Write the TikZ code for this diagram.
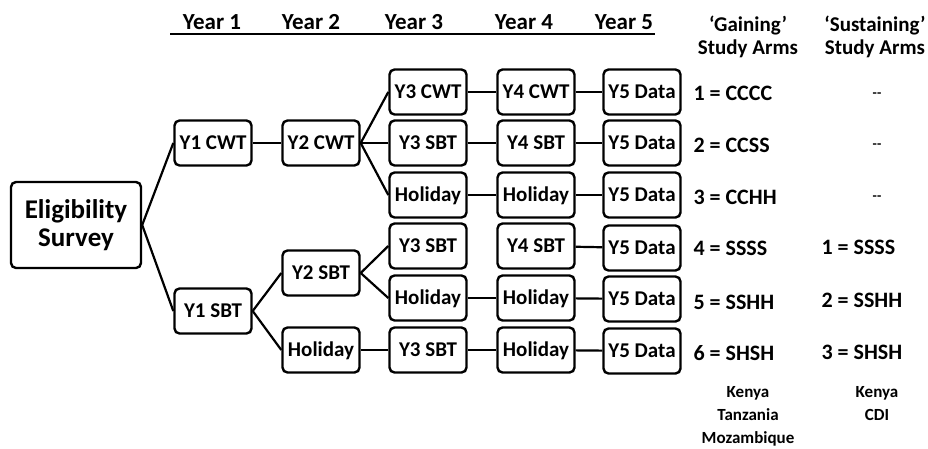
\documentclass[tikz,border=0pt]{standalone}
\usepackage{fontspec}
\setmainfont{Carlito}
\usepackage{tikz}

\begin{document}
\begin{tikzpicture}[x=1pt, y=-1pt,
        box/.style={draw, rounded corners=5pt, line width=2.4pt, minimum width=77pt, minimum height=45pt, inner sep=1pt, text height=14pt, text depth=1pt, font=\bfseries\fontsize{21}{25}\selectfont},
        link/.style={line width=2.2pt},
        yearlabel/.style={font=\bfseries\fontsize{23}{27}\selectfont},
        armlabel/.style={anchor=west, font=\bfseries\fontsize{22}{26}\selectfont},
        armhead/.style={align=center, font=\bfseries\fontsize{21}{23}\selectfont},
        country/.style={align=center, font=\bfseries\fontsize{17}{23}\selectfont}]
        \useasboundingbox (0,0) rectangle (928,448);

        % Year headings
        \node[yearlabel] (yr1) at (212, 22) {Year 1};
        \node[yearlabel] (yr2) at (311, 22) {Year 2};
        \node[yearlabel] (yr3) at (414, 22) {Year 3};
        \node[yearlabel] (yr4) at (524, 22) {Year 4};
        \node[yearlabel] (yr5) at (624, 22) {Year 5};
        \coordinate (ruleL) at (170, 34);
        \coordinate (ruleR) at (655, 34);
        \draw[line width=1.6pt] (ruleL) -- (ruleR);

        % Start
        \node[box, minimum width=130pt, minimum height=86pt, text height=, text depth=, align=center, font=\bfseries\fontsize{27}{28}\selectfont] (elig) at (76, 225) {Eligibility\\Survey};

        % Year 1 and Year 2
        \node[box] (y1c) at (213, 143) {Y1 CWT};
        \node[box] (y1s) at (213, 311) {Y1 SBT};
        \node[box] (y2c) at (321, 143) {Y2 CWT};
        \node[box] (y2s) at (321, 273) {Y2 SBT};
        \node[box] (y2h) at (321, 350) {Holiday};

        % Year 3
        \node[box] (y3a) at (428, 92) {Y3 CWT};
        \node[box] (y3b) at (428, 143) {Y3 SBT};
        \node[box] (y3c) at (428, 195) {Holiday};
        \node[box] (y3d) at (428, 246) {Y3 SBT};
        \node[box] (y3e) at (428, 298) {Holiday};
        \node[box] (y3f) at (428, 350) {Y3 SBT};

        % Year 4
        \node[box] (y4a) at (536, 92) {Y4 CWT};
        \node[box] (y4b) at (536, 143) {Y4 SBT};
        \node[box] (y4c) at (536, 195) {Holiday};
        \node[box] (y4d) at (536, 246) {Y4 SBT};
        \node[box] (y4e) at (536, 298) {Holiday};
        \node[box] (y4f) at (536, 350) {Holiday};

        % Year 5
        \node[box] (y5a) at (642, 92) {Y5 Data};
        \node[box] (y5b) at (642, 143) {Y5 Data};
        \node[box] (y5c) at (642, 195) {Y5 Data};
        \node[box] (y5d) at (642, 248) {Y5 Data};
        \node[box] (y5e) at (642, 299) {Y5 Data};
        \node[box] (y5f) at (642, 351) {Y5 Data};

        \draw[link] (elig.east) -- (y1c.west);
        \draw[link] (elig.east) -- (y1s.west);
        \draw[link] (y1c) -- (y2c);
        \draw[link] (y1s.east) -- (y2s.west);
        \draw[link] (y1s.east) -- (y2h.west);
        \draw[link] (y2c.east) -- (y3a.west);
        \draw[link] (y2c) -- (y3b);
        \draw[link] (y2c.east) -- (y3c.west);
        \draw[link] (y2s.east) -- (y3d.west);
        \draw[link] (y2s.east) -- (y3e.west);
        \draw[link] (y2h) -- (y3f);
        \draw[link] (y3a) -- (y4a);
        \draw[link] (y3b) -- (y4b);
        \draw[link] (y3c) -- (y4c);
        \draw[link] (y3e) -- (y4e);
        \draw[link] (y3f) -- (y4f);
        \draw[link] (y4a) -- (y5a);
        \draw[link] (y4b) -- (y5b);
        \draw[link] (y4c) -- (y5c);
        \draw[link] (y4d) -- (y5d);
        \draw[link] (y4e) -- (y5e);
        \draw[link] (y4f) -- (y5f);

        % Study arms
        \node[armhead] (gainhead) at (748, 37) {‘Gaining’\\Study Arms};
        \node[armhead] (sushead) at (875, 37) {‘Sustaining’\\Study Arms};

        \node[armlabel] (g1) at (690, 93) {1 = CCCC};
        \node[armlabel] (g2) at (690, 145) {2 = CCSS};
        \node[armlabel] (g3) at (690, 197) {3 = CCHH};
        \node[armlabel] (g4) at (690, 248) {4 = SSSS};
        \node[armlabel] (g5) at (690, 302) {5 = SSHH};
        \node[armlabel] (g6) at (690, 353) {6 = SHSH};

        \node[armlabel, anchor=center, font=\bfseries\fontsize{14}{16}\selectfont] (s1) at (877, 95) {-{}-};
        \node[armlabel, anchor=center, font=\bfseries\fontsize{14}{16}\selectfont] (s2) at (877, 146) {-{}-};
        \node[armlabel, anchor=center, font=\bfseries\fontsize{14}{16}\selectfont] (s3) at (877, 198) {-{}-};
        \node[armlabel] (s4) at (818, 247) {1 = SSSS};
        \node[armlabel] (s5) at (818, 300) {2 = SSHH};
        \node[armlabel] (s6) at (818, 352) {3 = SHSH};

        % Countries
        \node[country] (gaincty) at (748, 416) {Kenya\\Tanzania\\Mozambique};
        \node[country] (suscty) at (877, 404) {Kenya\\CDI};
    \end{tikzpicture}
\end{document}
